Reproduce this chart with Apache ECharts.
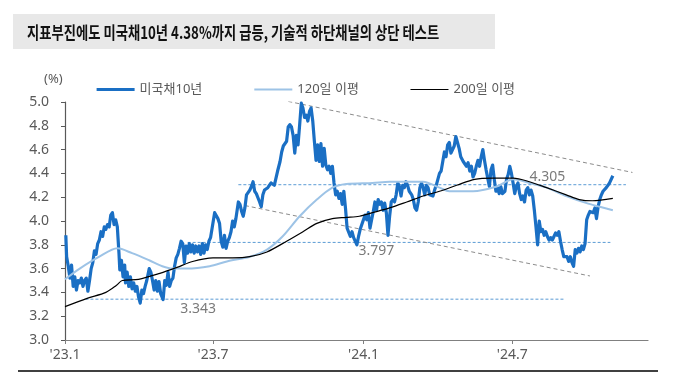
<!DOCTYPE html>
<html><head><meta charset="utf-8">
<script src="https://cdn.jsdelivr.net/npm/echarts@6/dist/echarts.min.js"></script>
<style>html,body{margin:0;padding:0;background:#fff}#c{width:697px;height:373px}</style>
</head><body><div id="c"></div><script>
const titleText = '지표부진에도 미국채10년 4.38%까지 급등, 기술적 하단채널의 상단 테스트';
const unitText = '(%)';
const seriesNames = ['미국채10년', '120일 이평', '200일 이평'];
const xTickDates = ['2023-01-01', '2023-07-01', '2024-01-01', '2024-07-01'];
const xRange = ['2023-01-01', '2024-12-14'];
const yRange = [3.0, 5.0, 0.2];

const yield10y = [
['2023-01-02',3.88],['2023-01-03',3.70],['2023-01-05',3.62],['2023-01-07',3.52],['2023-01-09',3.63],['2023-01-11',3.45],['2023-01-13',3.53],['2023-01-15',3.42],['2023-01-17',3.50],['2023-01-19',3.48],['2023-01-21',3.52],['2023-01-23',3.45],['2023-01-25',3.50],['2023-01-27',3.52],['2023-01-29',3.41],['2023-01-31',3.50],
['2023-02-02',3.60],['2023-02-04',3.65],['2023-02-06',3.75],['2023-02-08',3.72],['2023-02-10',3.81],['2023-02-12',3.84],['2023-02-14',3.91],['2023-02-16',3.87],['2023-02-18',3.95],['2023-02-20',3.93],['2023-02-22',3.97],['2023-02-24',3.95],['2023-02-26',4.05],['2023-02-28',4.07],
['2023-03-02',3.97],['2023-03-04',4.01],['2023-03-06',3.95],['2023-03-08',3.73],['2023-03-09',3.59],['2023-03-11',3.67],['2023-03-13',3.53],['2023-03-15',3.63],['2023-03-16',3.48],['2023-03-18',3.57],['2023-03-20',3.45],['2023-03-22',3.53],['2023-03-24',3.43],['2023-03-26',3.48],['2023-03-28',3.41],['2023-03-30',3.45],
['2023-04-01',3.36],['2023-04-03',3.31],['2023-04-05',3.42],['2023-04-07',3.39],['2023-04-09',3.45],['2023-04-11',3.50],['2023-04-14',3.60],['2023-04-16',3.57],['2023-04-18',3.50],['2023-04-20',3.42],['2023-04-22',3.50],['2023-04-24',3.41],['2023-04-26',3.49],['2023-04-28',3.39],
['2023-05-01',3.34],['2023-05-03',3.50],['2023-05-05',3.46],['2023-05-07',3.57],['2023-05-09',3.45],['2023-05-11',3.50],['2023-05-13',3.52],['2023-05-15',3.62],['2023-05-17',3.69],['2023-05-19',3.72],['2023-05-21',3.77],['2023-05-23',3.83],['2023-05-25',3.81],['2023-05-27',3.65],['2023-05-29',3.79],['2023-05-31',3.73],
['2023-06-02',3.81],['2023-06-04',3.74],['2023-06-06',3.80],['2023-06-08',3.73],['2023-06-10',3.79],['2023-06-12',3.74],['2023-06-14',3.79],['2023-06-16',3.72],['2023-06-18',3.81],['2023-06-20',3.73],['2023-06-22',3.80],['2023-06-24',3.76],['2023-06-26',3.83],['2023-06-28',3.86],['2023-06-30',3.87],
['2023-07-03',4.07],['2023-07-05',4.08],['2023-07-07',4.02],['2023-07-09',3.98],['2023-07-11',3.83],['2023-07-13',3.78],['2023-07-15',3.88],['2023-07-17',3.77],['2023-07-19',3.83],['2023-07-21',3.86],['2023-07-23',3.91],['2023-07-25',4.00],['2023-07-27',3.95],['2023-07-29',4.02],
['2023-08-01',4.16],['2023-08-03',4.14],['2023-08-05',4.08],['2023-08-07',4.04],['2023-08-09',4.11],['2023-08-11',4.22],['2023-08-13',4.23],['2023-08-15',4.26],['2023-08-17',4.29],['2023-08-19',4.33],['2023-08-21',4.25],['2023-08-23',4.23],['2023-08-25',4.22],['2023-08-27',4.16],['2023-08-29',4.12],['2023-08-31',4.22],
['2023-09-02',4.26],['2023-09-04',4.25],['2023-09-06',4.28],['2023-09-08',4.29],['2023-09-10',4.32],['2023-09-12',4.33],['2023-09-14',4.30],['2023-09-16',4.30],['2023-09-18',4.42],['2023-09-21',4.50],['2023-09-23',4.58],['2023-09-25',4.63],['2023-09-27',4.63],['2023-09-29',4.67],
['2023-10-01',4.79],['2023-10-03',4.81],['2023-10-05',4.79],['2023-10-07',4.72],['2023-10-09',4.57],['2023-10-11',4.72],['2023-10-13',4.64],['2023-10-15',4.81],['2023-10-17',4.99],['2023-10-19',4.95],['2023-10-21',4.87],['2023-10-23',4.89],['2023-10-25',4.84],['2023-10-27',4.92],['2023-10-29',4.95],['2023-10-31',4.84],
['2023-11-02',4.67],['2023-11-04',4.51],['2023-11-06',4.64],['2023-11-08',4.50],['2023-11-10',4.65],['2023-11-12',4.46],['2023-11-14',4.61],['2023-11-16',4.47],['2023-11-18',4.43],['2023-11-20',4.46],['2023-11-22',4.40],['2023-11-24',4.46],['2023-11-26',4.32],['2023-11-28',4.22],['2023-11-30',4.25],
['2023-12-02',4.19],['2023-12-04',4.23],['2023-12-06',4.14],['2023-12-08',4.25],['2023-12-10',4.11],['2023-12-12',3.94],['2023-12-14',3.93],['2023-12-16',3.87],['2023-12-18',3.91],['2023-12-20',3.86],['2023-12-22',3.87],['2023-12-24',3.80],['2023-12-26',3.87],['2023-12-28',3.93],['2023-12-30',3.93],
['2024-01-03',4.05],['2024-01-05',4.01],['2024-01-07',4.07],['2024-01-09',3.94],['2024-01-11',4.01],['2024-01-13',4.08],['2024-01-15',4.16],['2024-01-17',4.09],['2024-01-19',4.18],['2024-01-21',4.14],['2024-01-23',4.16],['2024-01-25',4.09],['2024-01-27',4.15],['2024-01-29',4.07],['2024-01-31',3.88],
['2024-02-02',4.04],['2024-02-04',4.16],['2024-02-06',4.18],['2024-02-08',4.16],['2024-02-10',4.22],['2024-02-12',4.32],['2024-02-14',4.29],['2024-02-16',4.21],['2024-02-18',4.30],['2024-02-20',4.28],['2024-02-22',4.33],['2024-02-24',4.30],['2024-02-26',4.25],['2024-02-29',4.22],
['2024-03-02',4.18],['2024-03-04',4.11],['2024-03-06',4.09],['2024-03-08',4.16],['2024-03-10',4.28],['2024-03-12',4.32],['2024-03-14',4.28],['2024-03-16',4.22],['2024-03-18',4.30],['2024-03-20',4.28],['2024-03-22',4.22],['2024-03-24',4.22],['2024-03-26',4.21],['2024-03-28',4.26],['2024-03-30',4.30],
['2024-04-01',4.35],['2024-04-03',4.40],['2024-04-05',4.42],['2024-04-07',4.50],['2024-04-09',4.58],['2024-04-11',4.54],['2024-04-13',4.64],['2024-04-15',4.66],['2024-04-17',4.57],['2024-04-19',4.60],['2024-04-21',4.63],['2024-04-23',4.71],['2024-04-25',4.66],['2024-04-27',4.61],['2024-04-29',4.54],
['2024-05-02',4.50],['2024-05-04',4.49],['2024-05-06',4.46],['2024-05-08',4.49],['2024-05-10',4.42],['2024-05-12',4.46],['2024-05-14',4.37],['2024-05-16',4.40],['2024-05-18',4.46],['2024-05-20',4.51],['2024-05-22',4.46],['2024-05-24',4.54],['2024-05-26',4.60],['2024-05-28',4.51],['2024-05-30',4.43],
['2024-06-01',4.36],['2024-06-03',4.29],['2024-06-05',4.43],['2024-06-07',4.47],['2024-06-09',4.35],['2024-06-11',4.25],['2024-06-13',4.28],['2024-06-15',4.23],['2024-06-17',4.29],['2024-06-19',4.23],['2024-06-22',4.25],['2024-06-24',4.35],['2024-06-26',4.39],['2024-06-28',4.46],['2024-06-30',4.40],
['2024-07-02',4.32],['2024-07-04',4.23],['2024-07-06',4.29],['2024-07-08',4.32],['2024-07-10',4.23],['2024-07-12',4.18],['2024-07-14',4.21],['2024-07-16',4.16],['2024-07-18',4.26],['2024-07-20',4.28],['2024-07-22',4.22],['2024-07-24',4.26],['2024-07-26',4.21],['2024-07-28',4.09],['2024-07-30',3.95],
['2024-08-01',3.80],['2024-08-03',4.00],['2024-08-05',3.91],['2024-08-07',3.93],['2024-08-09',3.88],['2024-08-11',3.91],['2024-08-13',3.87],['2024-08-15',3.84],['2024-08-17',3.86],['2024-08-19',3.84],['2024-08-21',3.87],['2024-08-23',3.90],['2024-08-25',3.88],['2024-08-27',3.91],['2024-08-29',3.83],['2024-08-31',3.76],
['2024-09-02',3.70],['2024-09-04',3.69],['2024-09-06',3.70],['2024-09-08',3.66],['2024-09-10',3.70],['2024-09-12',3.65],['2024-09-14',3.62],['2024-09-16',3.76],['2024-09-18',3.73],['2024-09-20',3.77],['2024-09-22',3.74],['2024-09-24',3.79],['2024-09-26',3.76],['2024-09-28',3.81],['2024-09-30',4.01],
['2024-10-02',4.05],['2024-10-04',4.08],['2024-10-06',4.09],['2024-10-08',4.07],['2024-10-10',4.11],['2024-10-12',4.02],['2024-10-14',4.12],['2024-10-16',4.18],['2024-10-18',4.22],['2024-10-20',4.25],['2024-10-22',4.25],['2024-10-24',4.28],['2024-10-26',4.30],['2024-10-28',4.32],['2024-11-01',4.38]
];

const ma120 = [
['2023-01-01',3.51],['2023-01-19',3.60],['2023-02-12',3.70],['2023-03-06',3.77],['2023-03-24',3.73],['2023-04-14',3.67],['2023-04-30',3.62],['2023-05-13',3.60],['2023-05-30',3.60],['2023-06-27',3.62],['2023-07-18',3.66],['2023-08-15',3.70],['2023-09-05',3.76],['2023-09-24',3.87],['2023-10-15',4.04],['2023-11-05',4.18],['2023-11-24',4.28],['2023-12-11',4.31],['2024-01-12',4.32],['2024-02-02',4.33],['2024-03-14',4.33],['2024-04-03',4.28],['2024-04-15',4.25],['2024-05-14',4.25],['2024-06-12',4.29],['2024-07-02',4.35],['2024-07-22',4.32],['2024-08-12',4.28],['2024-09-05',4.21],['2024-09-30',4.15],['2024-10-16',4.12],['2024-11-01',4.09]
];

const ma200 = [
['2023-01-01',3.28],['2023-01-28',3.35],['2023-02-20',3.40],['2023-03-05',3.46],['2023-03-12',3.50],['2023-04-01',3.51],['2023-04-27',3.56],['2023-05-18',3.61],['2023-06-06',3.66],['2023-07-01',3.69],['2023-07-25',3.69],['2023-08-15',3.70],['2023-09-05',3.74],['2023-09-29',3.83],['2023-10-19',3.91],['2023-11-05',3.98],['2023-11-24',4.02],['2023-12-11',4.03],['2023-12-27',4.04],['2024-01-12',4.07],['2024-02-02',4.11],['2024-02-23',4.16],['2024-03-14',4.21],['2024-04-03',4.25],['2024-04-24',4.30],['2024-05-16',4.35],['2024-06-07',4.36],['2024-07-02',4.36],['2024-07-22',4.33],['2024-08-12',4.28],['2024-09-05',4.22],['2024-09-21',4.18],['2024-10-07',4.17],['2024-11-01',4.19]
];

// horizontal reference levels: [value, from, to]
const levelLines = [
  [4.305, '2023-08-01', '2024-11-17'],
  [3.82,  '2023-05-31', '2024-10-29'],
  [3.343, '2023-01-26', '2024-09-04']
];
// level annotations: [text, date, value]
const levelLabels = [
  ['4.305', '2024-07-22', 4.37],
  ['3.797', '2023-12-26', 3.75],
  ['3.343', '2023-05-22', 3.26]
];
// channel trend lines
const channelUpper = [['2023-10-01', 5.005], ['2024-11-25', 4.408]];
const channelLower = [['2023-08-09', 4.13], ['2024-10-04', 3.538]];

const T = s => { const p = s.split('-').map(Number); return new Date(p[0], p[1] - 1, p[2]).getTime(); };
const FONT = "'Noto Sans', 'Noto Sans CJK KR', sans-serif";
const GRAY = '#595959';
const BLUE = '#1a6fc4', LIGHT = '#9dc3e6', BLACK = '#000000';

const chart = echarts.init(document.getElementById('c'), null, {renderer: 'canvas'});

const series = [];
levelLines.forEach(l => {
  series.push({
    type: 'line', silent: true, symbol: 'none', z: 1,
    data: [[T(l[1]), l[0]], [T(l[2]), l[0]]],
    lineStyle: {color: '#5b9bd5', width: 1, type: [3, 2]}
  });
});
[channelUpper, channelLower].forEach(c => {
  series.push({
    type: 'line', silent: true, symbol: 'none', z: 1,
    data: c.map(p => [T(p[0]), p[1]]),
    lineStyle: {color: '#8c8c8c', width: 1, type: [4, 3]}
  });
});
series.push({
  name: seriesNames[0], type: 'line', symbol: 'none', z: 3,
  data: yield10y.map(p => [T(p[0]), p[1]]),
  lineStyle: {color: BLUE, width: 3.2, join: 'round'},
  itemStyle: {color: BLUE}
});
series.push({
  name: seriesNames[1], type: 'line', symbol: 'none', z: 4, smooth: 0.3,
  data: ma120.map(p => [T(p[0]), p[1]]),
  lineStyle: {color: LIGHT, width: 2},
  itemStyle: {color: LIGHT}
});
series.push({
  name: seriesNames[2], type: 'line', symbol: 'none', z: 5, smooth: 0.3,
  data: ma200.map(p => [T(p[0]), p[1]]),
  lineStyle: {color: BLACK, width: 1.2},
  itemStyle: {color: BLACK}
});
series.push({
  type: 'scatter', silent: true, symbolSize: 0, z: 6,
  itemStyle: {color: 'transparent'},
  data: levelLabels.map(l => ({value: [T(l[1]), l[2]], name: l[0]})),
  label: {show: true, position: 'right', distance: 0, formatter: p => p.name,
          color: GRAY, fontSize: 14, fontFamily: FONT}
});

chart.setOption({
  animation: false,
  backgroundColor: '#fff',
  grid: {left: 65, right: 49, top: 102, bottom: 33, containLabel: false},
  legend: {
    left: 90, top: 78, itemWidth: 38, itemHeight: 2, itemGap: 51,
    itemStyle: {opacity: 0},
    data: [
      {name: seriesNames[0], lineStyle: {width: 3.2, color: BLUE}},
      {name: seriesNames[1], lineStyle: {width: 2, color: LIGHT}},
      {name: seriesNames[2], lineStyle: {width: 1.2, color: BLACK}}
    ],
    textStyle: {fontSize: 13, color: GRAY, fontFamily: FONT}
  },
  xAxis: {
    type: 'value', min: T(xRange[0]), max: T(xRange[1]),
    axisLine: {lineStyle: {color: '#808080', width: 1.2}},
    axisTick: {show: true, length: 4, lineStyle: {color: '#808080'}, customValues: xTickDates.map(T)},
    axisLabel: {
      customValues: xTickDates.map(T), color: GRAY, fontSize: 14, fontFamily: FONT, margin: 8,
      formatter: v => { const d = new Date(v); return "'" + String(d.getFullYear()).slice(2) + '.' + (d.getMonth() + 1); }
    },
    splitLine: {show: false}
  },
  yAxis: {
    type: 'value', min: yRange[0], max: yRange[1], interval: yRange[2],
    axisLine: {show: true, lineStyle: {color: '#595959', width: 1.2}},
    axisTick: {show: true, length: 4, lineStyle: {color: '#595959'}},
    axisLabel: {color: GRAY, fontSize: 14, fontFamily: FONT, margin: 16, formatter: v => v.toFixed(1)},
    splitLine: {show: false}
  },
  graphic: [
    {type: 'rect', left: 13, top: 14, silent: true, shape: {width: 482, height: 35}, style: {fill: '#e8e8e8'}},
    {type: 'text', x: 27, y: 32, scaleX: 0.76, silent: true,
     style: {text: titleText, fill: '#111', font: "bold 17.5px 'Noto Sans CJK KR', sans-serif", textVerticalAlign: 'middle'}},
    {type: 'text', x: 44, y: 79, silent: true,
     style: {text: unitText, fill: GRAY, font: "13px 'Noto Sans', sans-serif", textVerticalAlign: 'middle'}},
    {type: 'line', silent: true, shape: {x1: 18, y1: 371, x2: 658, y2: 371}, style: {stroke: '#000', lineWidth: 1.5}}
  ],
  series: series
});
</script></body></html>
